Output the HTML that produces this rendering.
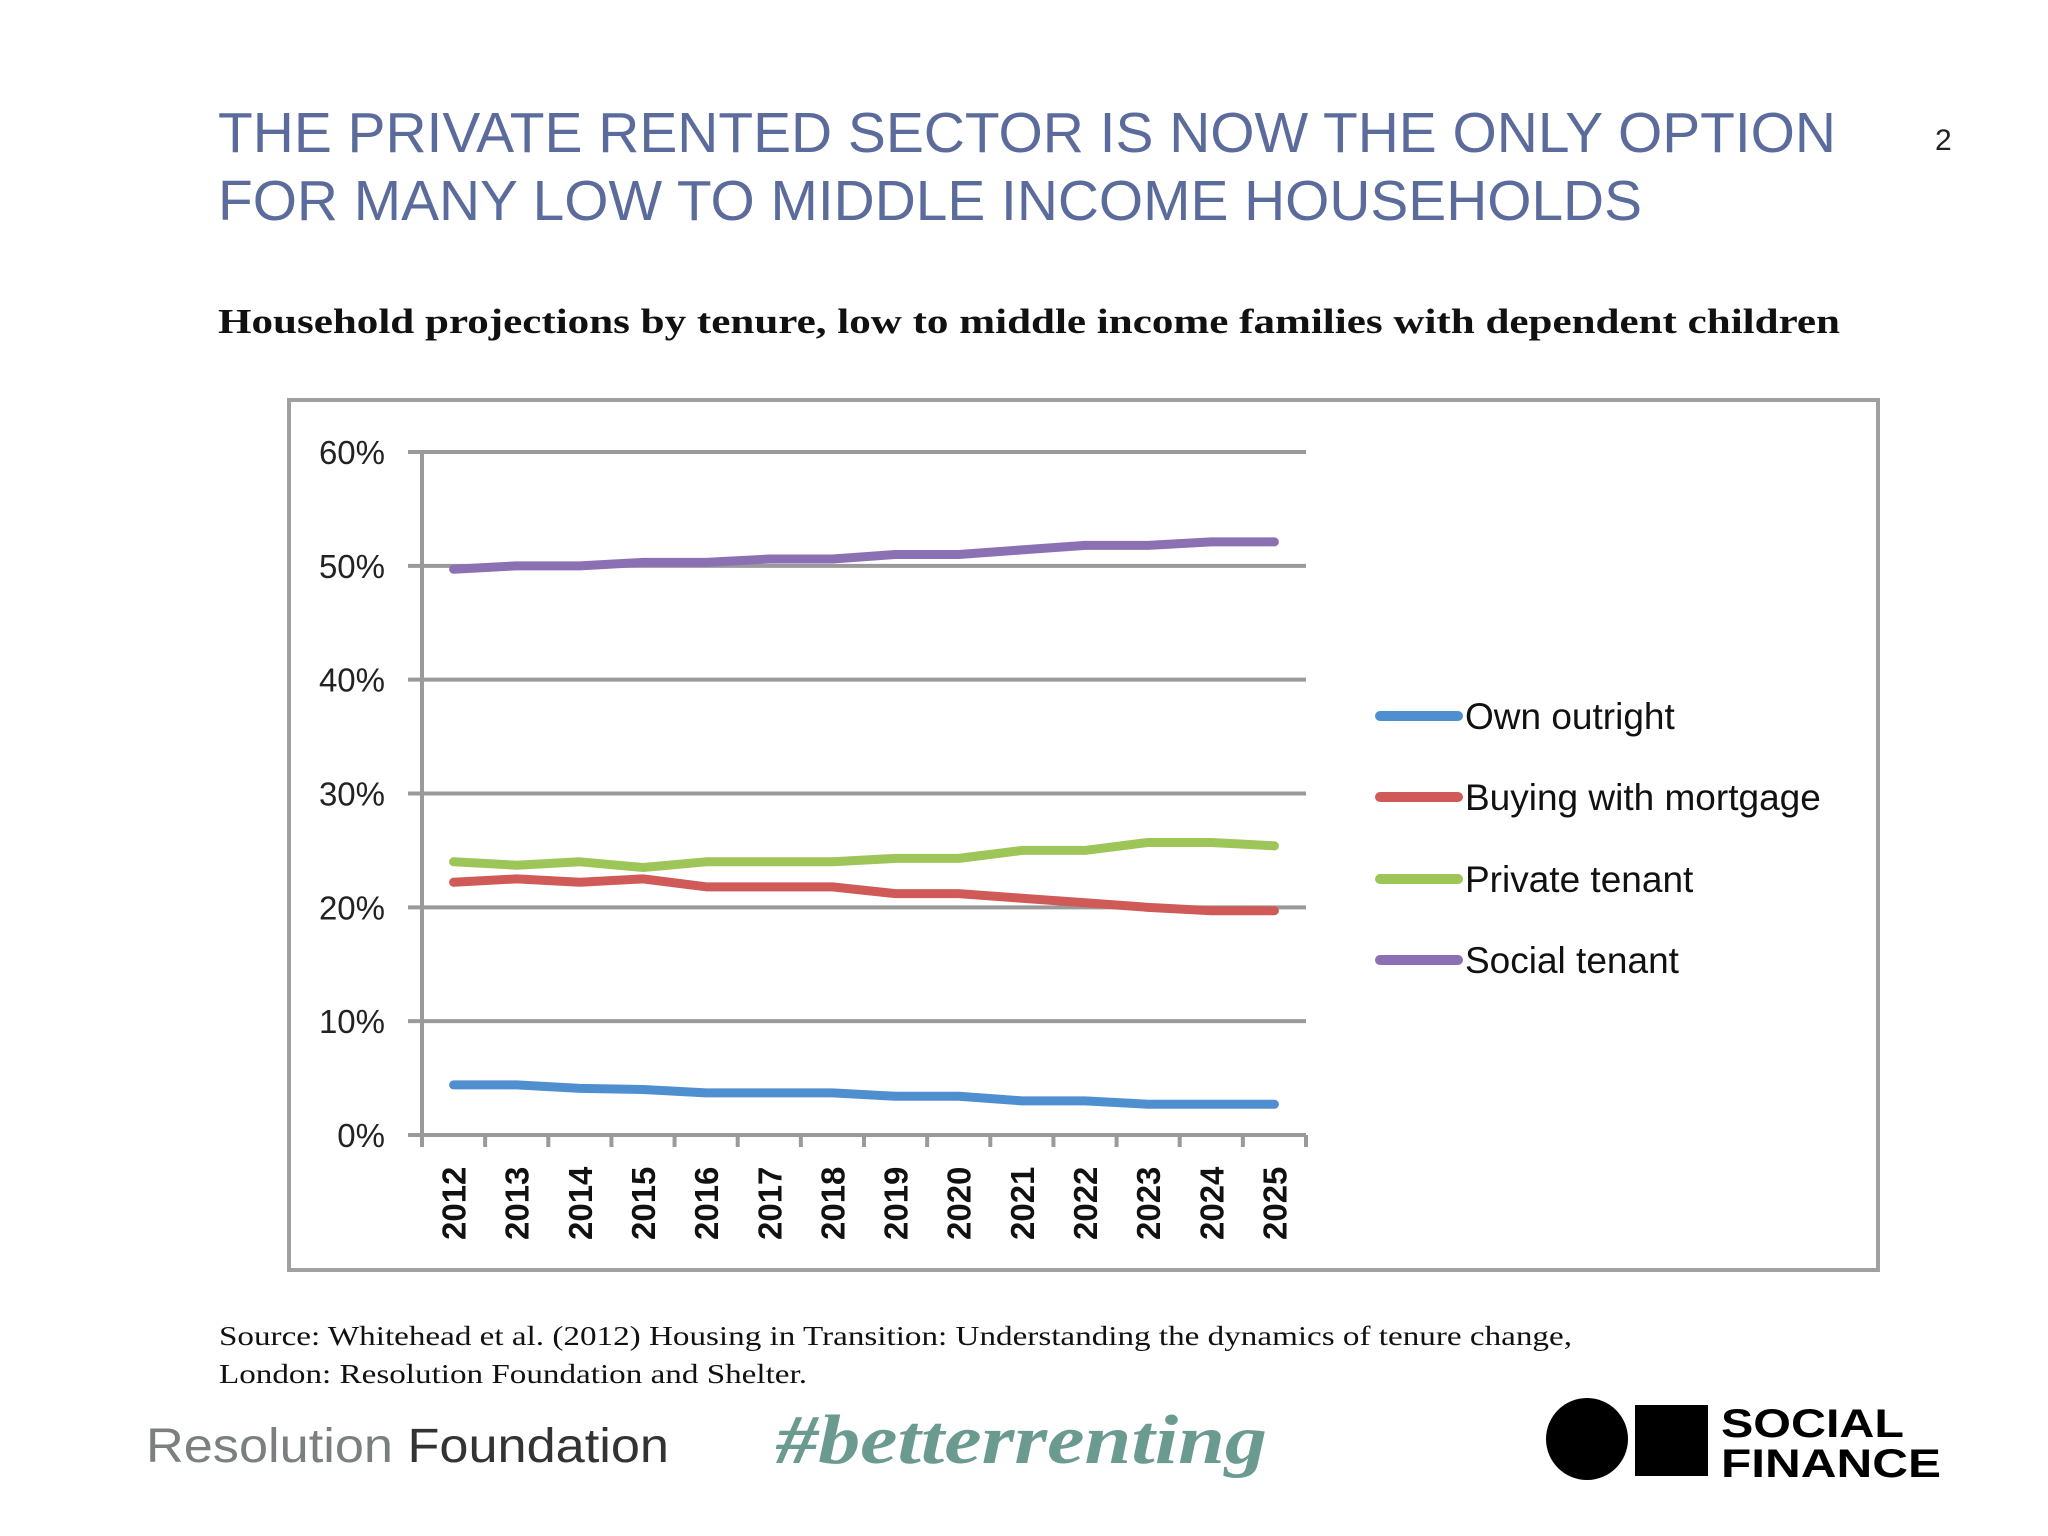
<!DOCTYPE html>
<html><head><meta charset="utf-8"><style>
html,body{margin:0;padding:0;background:#fff;}
svg{display:block;}
</style></head><body>
<svg id="chart" width="2048" height="1536" viewBox="0 0 2048 1536" xmlns="http://www.w3.org/2000/svg">
<rect width="2048" height="1536" fill="#fff"/>
<g font-family="Liberation Sans, sans-serif" fill="#5b6c9c" font-size="57">
<text x="218" y="152" textLength="1618" lengthAdjust="spacingAndGlyphs">THE PRIVATE RENTED SECTOR IS NOW THE ONLY OPTION</text>
<text x="218" y="220" textLength="1424" lengthAdjust="spacingAndGlyphs">FOR MANY LOW TO MIDDLE INCOME HOUSEHOLDS</text>
</g>
<text x="1935" y="150" font-family="Liberation Sans, sans-serif" font-size="30" fill="#222">2</text>
<text x="218" y="333" font-family="Liberation Serif, serif" font-weight="bold" font-size="35" fill="#111" textLength="1622" lengthAdjust="spacingAndGlyphs">Household projections by tenure, low to middle income families with dependent children</text>
<rect x="289" y="400" width="1589" height="870" fill="#fff" stroke="#a0a0a0" stroke-width="4"/>
<g id="grid"></g>
<g id="lines"></g>
<g id="legend"></g>
<g font-family="Liberation Serif, serif" font-size="27" fill="#111">
<text x="219" y="1345" textLength="1353" lengthAdjust="spacingAndGlyphs">Source: Whitehead et al. (2012) Housing in Transition: Understanding the dynamics of tenure change,</text>
<text x="219" y="1383" textLength="588" lengthAdjust="spacingAndGlyphs">London: Resolution Foundation and Shelter.</text>
</g>
<text x="146" y="1462" font-family="Liberation Sans, sans-serif" font-size="48" textLength="523" lengthAdjust="spacingAndGlyphs"><tspan fill="#7b7f80">Resolution </tspan><tspan fill="#333">Foundation</tspan></text>
<text x="776" y="1463" font-family="Liberation Serif, serif" font-style="italic" font-weight="bold" font-size="70" fill="#6a9a90" textLength="491" lengthAdjust="spacingAndGlyphs">#betterrenting</text>
<g>
<circle cx="1587" cy="1439" r="41" fill="#000"/>
<rect x="1635" y="1405" width="73" height="71" fill="#000"/>
<text x="1721" y="1437" font-family="Liberation Sans, sans-serif" font-weight="bold" font-size="40" textLength="183" lengthAdjust="spacingAndGlyphs">SOCIAL</text>
<text x="1721" y="1477" font-family="Liberation Sans, sans-serif" font-weight="bold" font-size="40" textLength="220" lengthAdjust="spacingAndGlyphs">FINANCE</text>
</g>
</svg>
<script>
const years = ['2012','2013','2014','2015','2016','2017','2018','2019','2020','2021','2022','2023','2024','2025'];
const ownOutright = [4.4,4.4,4.1,4.0,3.7,3.7,3.7,3.4,3.4,3.0,3.0,2.7,2.7,2.7];
const buyingMortgage = [22.2,22.5,22.2,22.5,21.8,21.8,21.8,21.2,21.2,20.8,20.4,20.0,19.7,19.7];
const privateTenant = [24.0,23.7,24.0,23.5,24.0,24.0,24.0,24.3,24.3,25.0,25.0,25.7,25.7,25.4];
const socialTenant = [49.7,50.0,50.0,50.3,50.3,50.6,50.6,51.0,51.0,51.4,51.8,51.8,52.1,52.1];
const yTicks = [0,10,20,30,40,50,60];
const seriesNames = ['Own outright','Buying with mortgage','Private tenant','Social tenant'];

const NS='http://www.w3.org/2000/svg';
const X0=422, X1=1306, Y0=1135, Y60=452;
const step=(X1-X0)/years.length;
const xPos=i=>X0+step*(i+0.5);
const yPos=v=>Y0-(v/60)*(Y0-Y60);
function mk(tag,attrs,parent){const e=document.createElementNS(NS,tag);for(const k in attrs)e.setAttribute(k,attrs[k]);parent.appendChild(e);return e;}
const grid=document.getElementById('grid');
yTicks.forEach(t=>{
  const y=yPos(t);
  const l=mk('line',{x1:X0-14,x2:X1,y1:y,y2:y,stroke:'#9a9a9a','stroke-width':4},grid);
  
  
  const tx=mk('text',{x:385,y:y+12,'text-anchor':'end','font-family':'Liberation Sans, sans-serif','font-size':33,fill:'#222'},grid);
  tx.textContent=t+'%';
  
  
});
const ax=mk('line',{x1:X0,x2:X0,y1:Y60,y2:Y0,stroke:'#9a9a9a','stroke-width':4},grid);


for(let i=0;i<=years.length;i++){
  const x=X0+step*i;
  const tk=mk('line',{x1:x,x2:x,y1:Y0,y2:Y0+12,stroke:'#9a9a9a','stroke-width':4},grid);
  
  
}
years.forEach((yr,i)=>{
  const x=xPos(i)+12, y=1240;
  const t=mk('text',{x:x,y:y,transform:`rotate(-90 ${x} ${y})`,'font-family':'Liberation Sans, sans-serif','font-weight':'bold','font-size':33,fill:'#111'},grid);
  t.textContent=yr;
  
  
});
const colors=['#4f8fd0','#d05a57','#9dc558','#8c70b4'];
const data=[ownOutright,buyingMortgage,privateTenant,socialTenant];
const lines=document.getElementById('lines');
data.forEach((s,k)=>{
  const p=mk('polyline',{points:s.map((v,i)=>xPos(i)+','+yPos(v)).join(' '),fill:'none',stroke:colors[k],'stroke-width':9,'stroke-linecap':'round','stroke-linejoin':'round'},lines);
  
  
});
const leg=document.getElementById('legend');
const ly=[716,797,879,960];
seriesNames.forEach((n,k)=>{
  const g=mk('g',{},leg);
  
  
  mk('line',{x1:1380,x2:1458,y1:ly[k],y2:ly[k],stroke:colors[k],'stroke-width':10,'stroke-linecap':'round'},g);
  const t=mk('text',{x:1465,y:ly[k]+13,'font-family':'Liberation Sans, sans-serif','font-size':37,fill:'#111'},g);
  t.textContent=n;
});
</script>
</body></html>
